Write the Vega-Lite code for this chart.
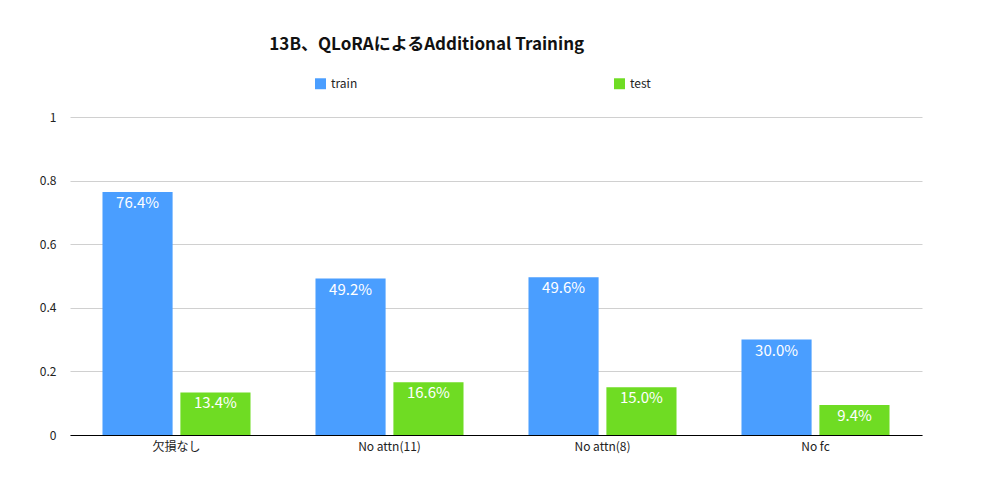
{
"$schema":"https://vega.github.io/schema/vega-lite/v6.json",
"width":852,"height":318,
"autosize":{"type":"none"},
"padding":{"left":70,"top":117,"right":72,"bottom":55},
"background":"white",
"config":{"font":"Noto Sans CJK JP","view":{"stroke":null}},
"title":{"text":"13B、QLoRAによるAdditional Training","fontSize":17,"fontWeight":"bold","anchor":"start","offset":23,"dx":230,"color":"#111"},
"data":{"values":[
{"cat":"欠損なし","series":"train","v":0.764},
{"cat":"欠損なし","series":"test","v":0.134},
{"cat":"No attn(11)","series":"train","v":0.492},
{"cat":"No attn(11)","series":"test","v":0.166},
{"cat":"No attn(8)","series":"train","v":0.496},
{"cat":"No attn(8)","series":"test","v":0.150},
{"cat":"No fc","series":"train","v":0.300},
{"cat":"No fc","series":"test","v":0.094}
]},
"encoding":{
"x":{"field":"cat","type":"nominal","sort":null,"title":null,"scale":{"paddingInner":0.305,"paddingOuter":0.1525},"axis":{"labelAngle":0,"domainColor":"#000","ticks":false,"labelFontSize":12,"labelColor":"#222","labelPadding":6}},
"xOffset":{"field":"series","sort":["train","test"],"scale":{"paddingInner":0.1}},
"y":{"field":"v","type":"quantitative","title":null,"scale":{"domain":[0,1]},"axis":{"values":[0,0.2,0.4,0.6,0.8,1],"format":"~g","domain":false,"ticks":false,"gridColor":"#d0d0d0","labelFontSize":12,"labelColor":"#222","labelPadding":14}}
},
"layer":[
{"mark":"bar","encoding":{"color":{"field":"series","sort":["train","test"],"scale":{"range":["#4a9eff","#6fdc23"]},"legend":{"title":null,"orient":"none","legendX":244,"legendY":-40,"direction":"horizontal","symbolType":"square","symbolSize":120,"columnPadding":255,"labelFontSize":12,"labelColor":"#222"}}}},
{"mark":{"type":"text","color":"white","fontSize":15,"baseline":"top","dy":4},"encoding":{"text":{"field":"v","type":"quantitative","format":".1%"}}}
]
}
